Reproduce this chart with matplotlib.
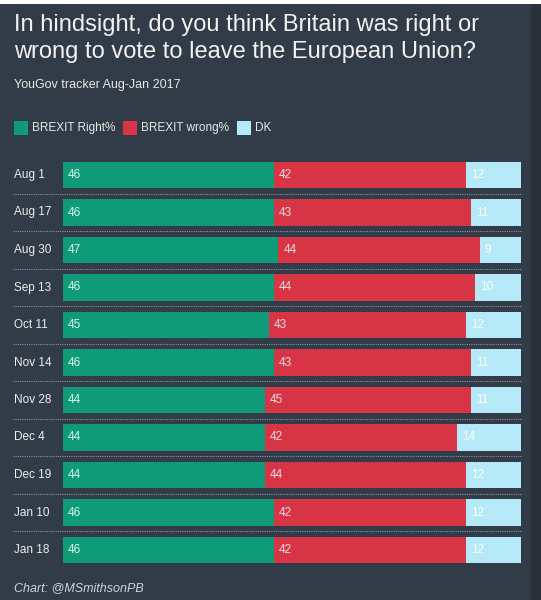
import matplotlib.pyplot as plt
from matplotlib.patches import Rectangle
from matplotlib.transforms import blended_transform_factory

dates = ['Aug 1', 'Aug 17', 'Aug 30', 'Sep 13', 'Oct 11', 'Nov 14',
         'Nov 28', 'Dec 4', 'Dec 19', 'Jan 10', 'Jan 18']
right = [46, 46, 47, 46, 45, 46, 44, 44, 44, 46, 46]
wrong = [42, 43, 44, 44, 43, 43, 45, 42, 44, 42, 42]
dk = [12, 11, 9, 10, 12, 11, 11, 14, 12, 12, 12]
series_names = ['BREXIT Right%', 'BREXIT wrong%', 'DK']

bg = '#323b48'
colors = ['#0f9b78', '#d73445', '#b5e9f8']
label_colors = ['#d8f3e8', '#f8dde0', '#ffffff']
W, H = 541, 600

plt.rcParams['font.family'] = ['Liberation Sans', 'DejaVu Sans']

fig = plt.figure(figsize=(W / 100, H / 100), dpi=100, facecolor=bg)
# strips at the edges of the screenshot
fig.patches.append(Rectangle((531 / W, 0), 10 / W, 1, transform=fig.transFigure,
                             facecolor='#2b313a', edgecolor='none', zorder=-1))
fig.patches.append(Rectangle((0, 1 - 4 / H), 1, 4 / H, transform=fig.transFigure,
                             facecolor='white', edgecolor='none', zorder=-1))

fig.text(14 / W, 1 - 31 / H, 'In hindsight, do you think Britain was right or',
         color='#f2f2f2', fontsize=17, va='baseline')
fig.text(14 / W, 1 - 58 / H, 'wrong to vote to leave the European Union?',
         color='#f2f2f2', fontsize=17, va='baseline')
fig.text(14 / W, 1 - 88 / H, 'YouGov tracker Aug-Jan 2017',
         color='#e8e8e8', fontsize=9, va='baseline')

# legend
leg_x = [14, 123, 237]
for x, name, c in zip(leg_x, series_names, colors):
    fig.patches.append(Rectangle((x / W, 1 - 135 / H), 14 / W, 14 / H,
                                 transform=fig.transFigure, facecolor=c,
                                 edgecolor='none'))
    fig.text((x + 18) / W, 1 - 128 / H, name, color='#e8e8e8',
             fontsize=8.5, va='center')

ax = fig.add_axes([63 / W, 1 - 568.75 / H, 458 / W, 412.5 / H])
ax.set_facecolor('none')
ypos = list(range(len(dates)))
lefts = [[0] * len(dates), right, [r + w for r, w in zip(right, wrong)]]
for vals, left, c, lc in zip([right, wrong, dk], lefts, colors, label_colors):
    ax.barh(ypos, vals, left=left, height=0.71, color=c, edgecolor='none')
    for y, v, l in zip(ypos, vals, left):
        ax.text(l + 1.1, y, str(v), color=lc, fontsize=8.5, va='center')

ax.set_xlim(0, 100)
ax.set_ylim(len(dates) - 0.5, -0.5)
ax.axis('off')

# dotted separators between rows
for i in range(len(dates) - 1):
    ax.plot([-10.9, 100], [i + 0.5, i + 0.5], color='#8a929c', lw=0.8,
            ls=(0, (1, 1)), clip_on=False)

tr = blended_transform_factory(fig.transFigure, ax.transData)
for y, d in zip(ypos, dates):
    ax.text(14 / W, y, d, transform=tr, color='#eeeeee', fontsize=8.5,
            va='center', ha='left')

fig.text(14 / W, 1 - 591 / H, 'Chart: @MSmithsonPB', color='#d0d3d8',
         fontsize=9, style='italic', va='baseline')

fig.savefig('out.png', dpi=100, facecolor=bg)
